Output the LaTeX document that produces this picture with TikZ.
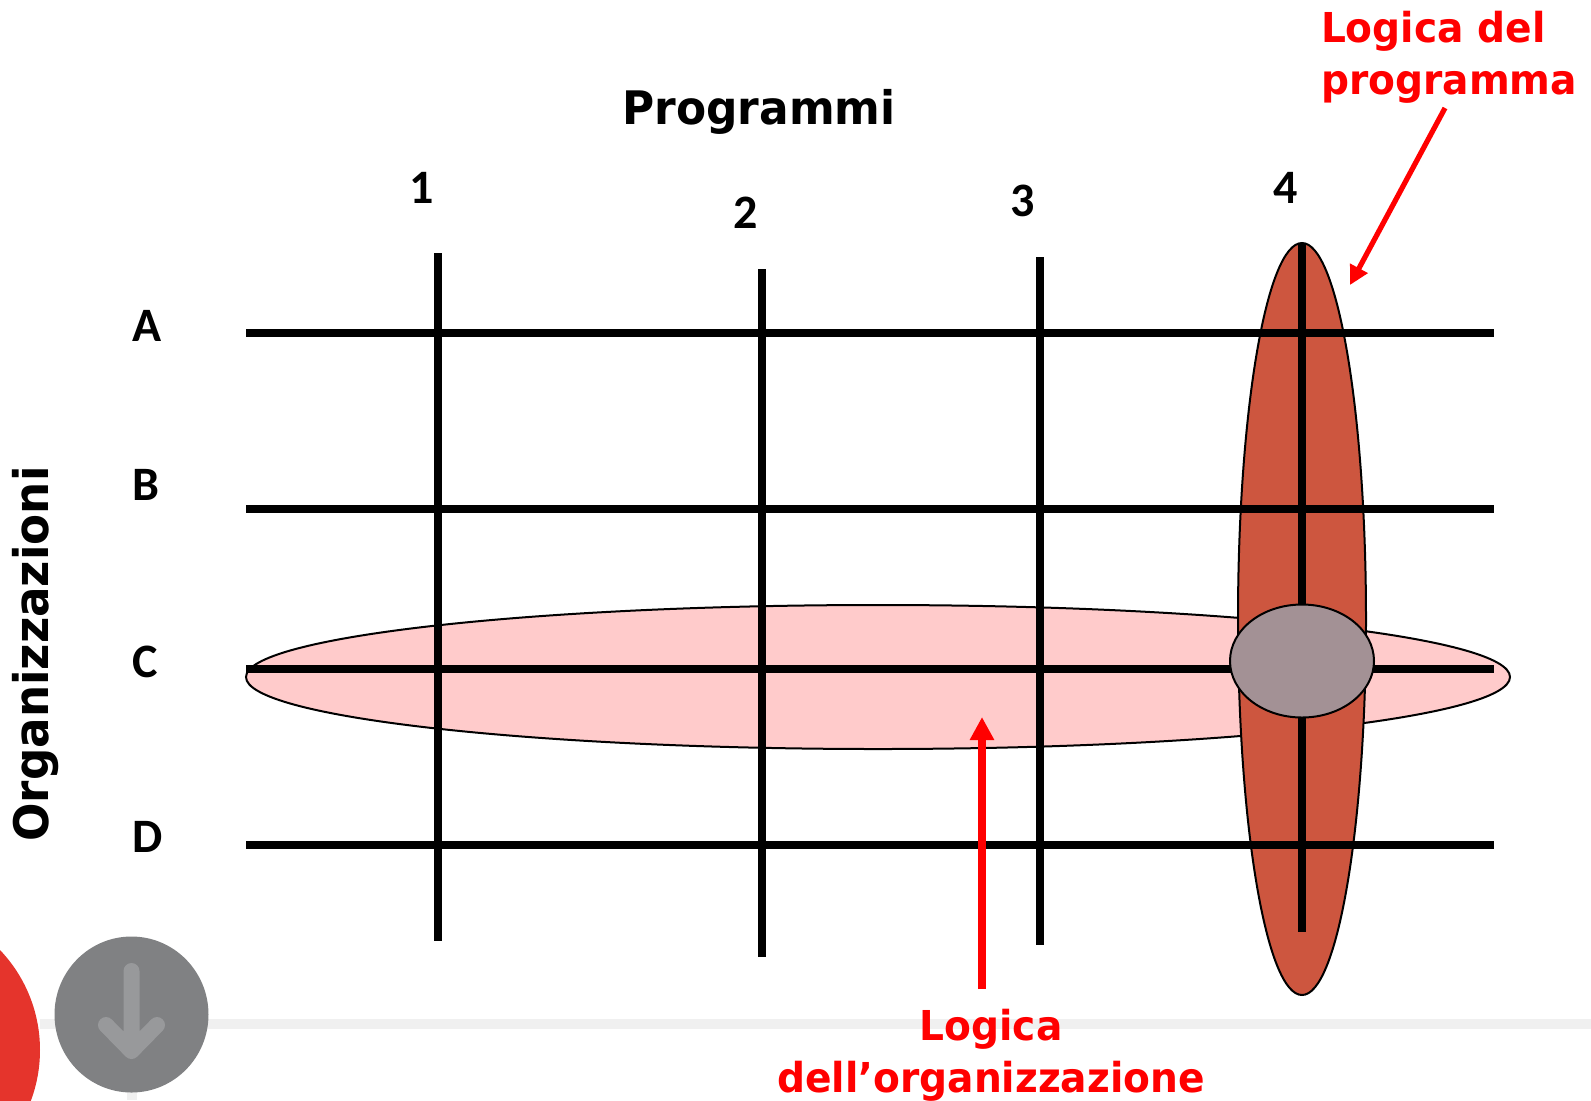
\documentclass[tikz,border=0pt]{standalone}
\usepackage{fontspec}
\setmainfont{DejaVu Sans}
\newfontfamily\carlito{Carlito}
\newfontfamily\stretta[FakeStretch=0.95]{DejaVu Sans}
\usetikzlibrary{arrows.meta}
\definecolor{programma}{HTML}{CD563F}
\definecolor{organizz}{HTML}{FFCBCB}
\definecolor{incrocio}{HTML}{A39195}
\definecolor{bottone}{HTML}{808183}
\definecolor{freccina}{HTML}{98999B}
\definecolor{rosso}{HTML}{E5342C}
\definecolor{riga}{HTML}{F0F0F0}

\begin{document}
\begin{tikzpicture}[x=0.5pt, y=-0.5pt,
      griglia/.style={line width=4.3pt, black},
      alone/.style={draw=black, line width=1pt},
      titolo/.style={font=\stretta\bfseries\fontsize{23.1}{26}\selectfont, text=black, inner sep=0pt},
      etichetta/.style={font=\carlito\bfseries\fontsize{24}{28}\selectfont, text=black, inner sep=0pt},
      logica/.style={font=\stretta\bfseries\fontsize{20.6}{26}\selectfont, text=red, inner sep=0pt},
      pfeilrot/.style={draw=red, -{Triangle[length=9.5pt, width=9.5pt]}, line width=2.6pt},
      pfeilgr/.style={draw=red, -{Triangle[length=11.5pt, width=11.5pt]}, line width=3.7pt}]
    \useasboundingbox (0,0) rectangle (1591,1100);
    % parte bassa
    \fill[riga] (40,1019) rectangle (1591,1029);
    \fill[riga] (127,1090) rectangle (137,1100);
    \begin{scope}
      \clip (0,0) rectangle (1591,1100);
      \fill[rosso] (-105,1050) circle (145 and 145);
    \end{scope}
    \fill[bottone] (131.5,1014.5) circle (77 and 78);
    \draw[freccina, line width=8pt, line cap=round, line join=round]
      (131.5,971) -- (131.5,1051) (106,1025) -- (131.5,1051) -- (157,1025);
    % ellissi e griglia
    \draw[alone, fill=organizz] (878,677) ellipse (632 and 72);
    \draw[griglia] (246,669) coordinate (Cw) -- (1494,669) coordinate (Ce);
    \foreach \nome/\xa/\ya/\yb in {1/438/253/941, 2/762/269/957, 3/1040/257/945}
      \draw[griglia] (\xa,\ya) coordinate (p\nome n) -- (\xa,\yb) coordinate (p\nome s);
    \draw[alone, fill=programma] (1302,619) ellipse (64 and 376);
    \foreach \nome/\ya in {A/333, B/509, D/845}
      \draw[griglia] (246,\ya) coordinate (\nome w) -- (1494,\ya) coordinate (\nome e);
    \draw[griglia] (1302,243) coordinate (p4n) -- (1302,932) coordinate (p4s);
    \draw[alone, fill=incrocio] (1302,661) ellipse (72 and 56.5);
    % testi
    \node[titolo] (programmi) at (759,112) {Programmi};
    \node[titolo, font=\stretta\bfseries\fontsize{23.8}{26}\selectfont, rotate=90] (organizzazioni) at (36,654) {Organizzazioni};
    \node[etichetta] (n1) at (421.5,188) {1};
    \node[etichetta] (n2) at (746,213) {2};
    \node[etichetta] (n3) at (1023,201) {3};
    \node[etichetta] (n4) at (1286,188) {4};
    \node[etichetta] (la) at (147,326) {A};
    \node[etichetta] (lb) at (146,485) {B};
    \node[etichetta] (lc) at (145,662) {C};
    \node[etichetta] (ld) at (148,837) {D};
    \node[logica, align=left] (logprog) at (1449,57) {Logica del\\programma};
    \node[logica, align=center] (logorg) at (991,1055) {Logica\\dell’organizzazione};
    % frecce
    \coordinate (da1) at (1445,108);
    \coordinate (a1) at (1350,285);
    \coordinate (da2) at (982,989);
    \coordinate (a2) at (982,717);
    \draw[pfeilrot] (da1) -- (a1);
    \draw[pfeilgr] (da2) -- (a2);
  \end{tikzpicture}
\end{document}
